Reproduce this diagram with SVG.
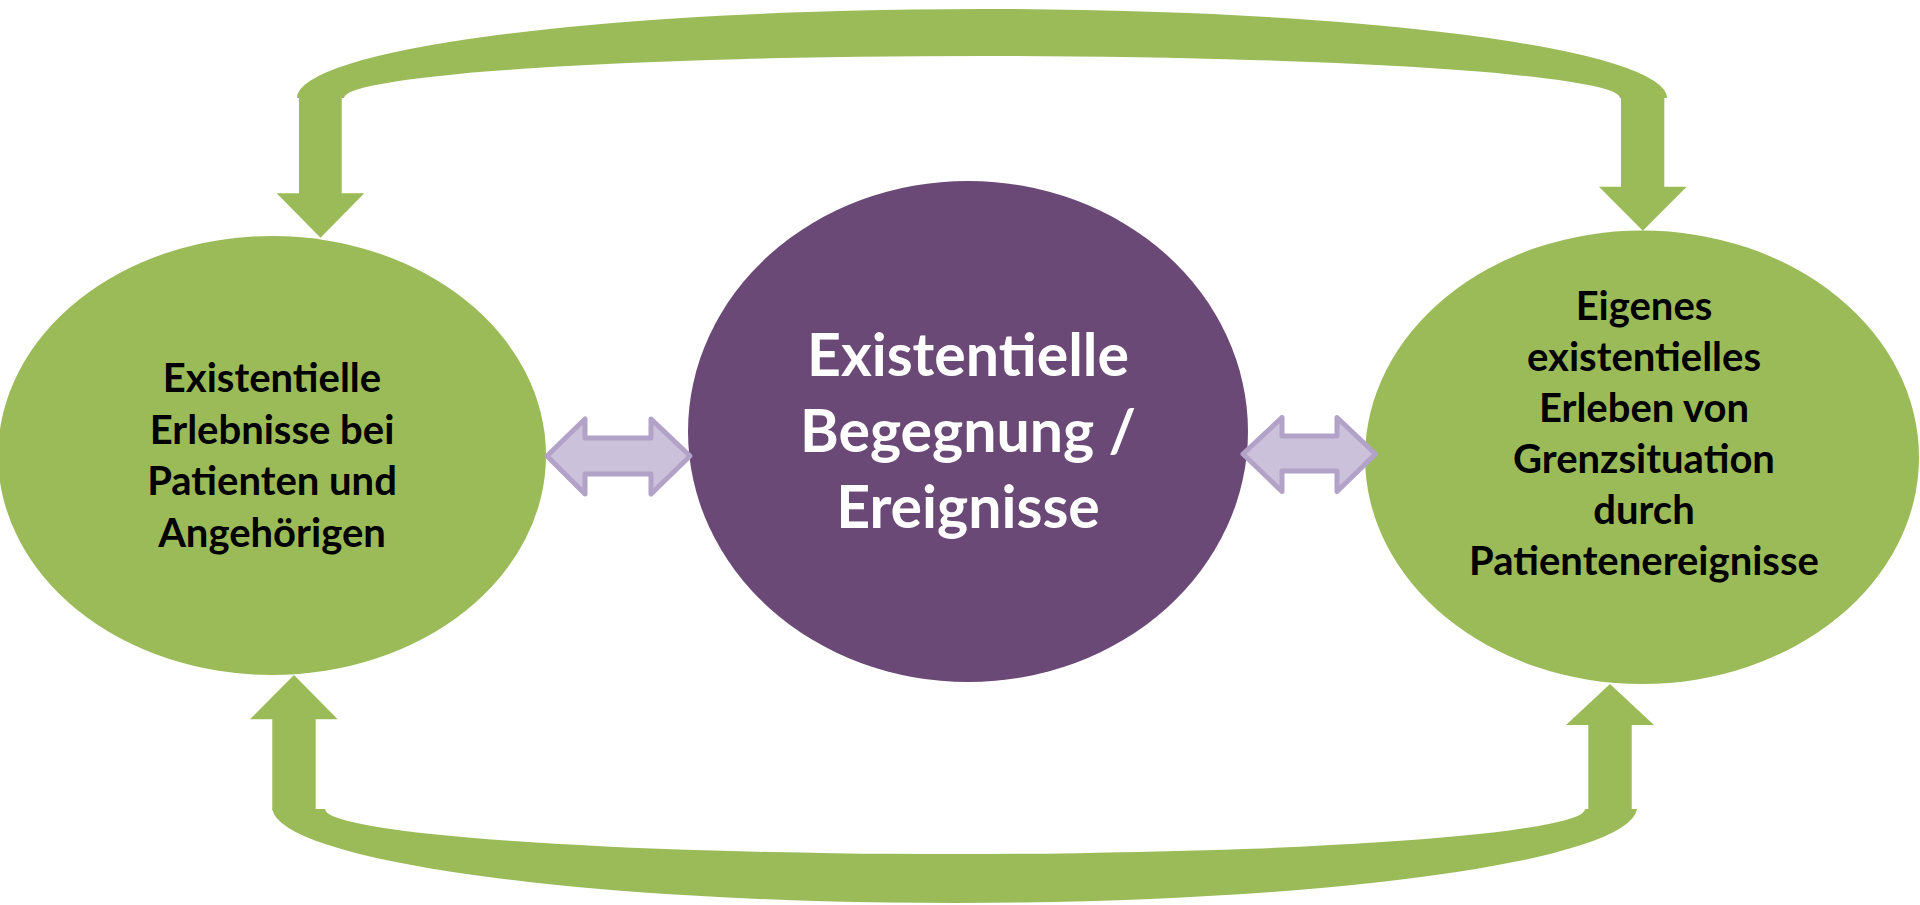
<svg xmlns="http://www.w3.org/2000/svg" width="1920" height="905" viewBox="0 0 1920 905">
<style>
.g{fill:#9BBB59}
.dbl{fill:#CCC1DA;stroke:#B3A2C7;stroke-width:5;stroke-linejoin:round}
.t{font-family:Lato,"Open Sans","Liberation Sans",sans-serif;font-weight:700;text-anchor:middle}
.tb{fill:#000;font-size:40px}
.tw{fill:#fff;font-size:59px}
</style>
<rect width="1920" height="905" fill="#fff"/>
<g id="node-left">
<ellipse cx="272" cy="455.5" rx="274" ry="219.5" class="g"/>
<text class="t tb"><tspan x="272" y="392">Existentielle</tspan><tspan x="272" y="443.5">Erlebnisse bei</tspan><tspan x="272" y="495">Patienten und</tspan><tspan x="272" y="546.5">Angehörigen</tspan></text>
</g>
<g id="node-center">
<ellipse cx="968" cy="431.5" rx="280" ry="250.5" fill="#6B4977"/>
<text class="t tw"><tspan x="968" y="375.5">Existentielle</tspan><tspan x="968" y="452">Begegnung /</tspan><tspan x="968" y="528">Ereignisse</tspan></text>
</g>
<g id="node-right">
<ellipse cx="1642" cy="457.3" rx="277" ry="226.7" class="g"/>
<text class="t tb"><tspan x="1644" y="319.5">Eigenes</tspan><tspan x="1644" y="370.6">existentielles</tspan><tspan x="1644" y="421.7">Erleben von</tspan><tspan x="1644" y="472.8">Grenzsituation</tspan><tspan x="1644" y="523.9">durch</tspan><tspan x="1644" y="575">Patientenereignisse</tspan></text>
</g>
<g id="connectors">
<g id="top-loop" class="g">
<path d="M297,98 A685,89 0 0 1 1667,98 L1620,98 A638,42 0 0 0 344,98 Z"/>
<rect x="299" y="96" width="42.7" height="98"/>
<polygon points="276.7,193.3 364.3,193.3 320.5,237.7"/>
<rect x="1621" y="96" width="43.3" height="91.5"/>
<polygon points="1599,186.7 1686.7,186.7 1642.8,230.7"/>
</g>
<g id="bottom-loop" class="g">
<path d="M272.3,809 A682.5,96 0 0 0 1637,809 L1585,809 A630,45 0 0 1 325,809 Z"/>
<rect x="272.3" y="718.5" width="43.4" height="92"/>
<polygon points="250,719.3 337.7,719.3 294,675"/>
<rect x="1588.3" y="724" width="43.4" height="86"/>
<polygon points="1566,725 1654,725 1610,684"/>
</g>
<path id="dbl-left" class="dbl" d="M547,456 L585,419 L585,438 L651,438 L651,419 L690,456 L651,494 L651,474 L585,474 L585,494 Z"/>
<path id="dbl-right" class="dbl" d="M1243,454 L1282,417.5 L1282,436 L1337,436 L1337,417.5 L1375.5,454 L1337,491.5 L1337,471 L1282,471 L1282,491.5 Z"/>
</g>
</svg>
